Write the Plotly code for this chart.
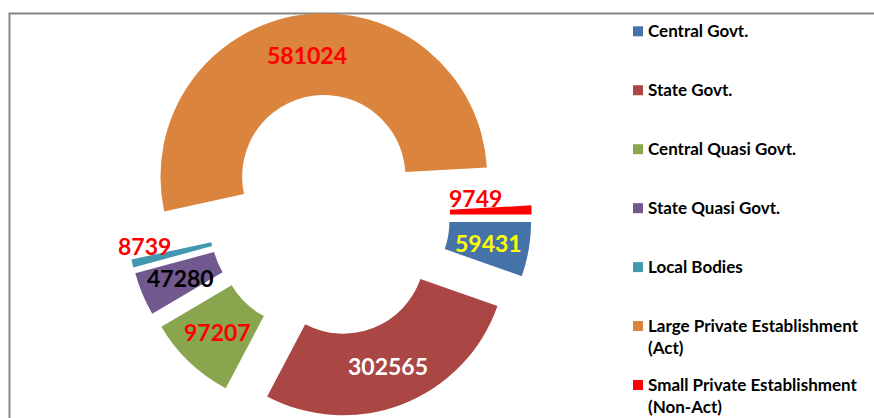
import math
import plotly.graph_objects as go

# Employment by type of establishment
categories = [
    "Central Govt.",
    "State Govt.",
    "Central Quasi Govt.",
    "State Quasi Govt.",
    "Local Bodies",
    "Large Private Establishment (Act)",
    "Small Private Establishment (Non-Act)",
]
employment = [59431, 302565, 97207, 47280, 8739, 581024, 9749]

slice_colors = ["#4572A7", "#AA4643", "#89A54E", "#71588F", "#4198AF", "#DB843D", "#FF0000"]
value_label_colors = ["#FFFF00", "#FFFFFF", "#FF0000", "#000000", "#FF0000", "#FF0000", "#FF0000"]

W, H = 874, 418
PULL = 0.24
HOLE = 0.5
START_ANGLE = 90          # first slice starts at 3 o'clock, running clockwise
DOM_X = [0.05, 0.703]
DOM_Y = [0.0, 0.969]
FONT = "Lato"

fig = go.Figure(
    go.Pie(
        labels=categories,
        values=employment,
        sort=False,
        direction="clockwise",
        rotation=START_ANGLE,
        hole=HOLE,
        pull=[PULL] * len(employment),
        marker=dict(colors=slice_colors, line=dict(width=0)),
        textinfo="none",
        hoverinfo="label+value+percent",
        domain=dict(x=DOM_X, y=DOM_Y),
        showlegend=False,
    )
)

# Pie geometry in pixels (same rules plotly uses to size the pie in its domain)
box_w = W * (DOM_X[1] - DOM_X[0])
box_h = H * (DOM_Y[1] - DOM_Y[0])
radius = min(box_w, box_h) / (2 + 2 * PULL)
cx = W * (DOM_X[0] + DOM_X[1]) / 2
cy = H * (1 - DOM_Y[0]) - box_h / 2

# Thin slices carry their value label just outside the ring
outside_label_px = {4: (144, 246), 6: (475, 198)}

annotations = []
total = sum(employment)
cum = 0.0
for i, v in enumerate(employment):
    mid = math.radians(START_ANGLE + 360.0 * (cum + v / 2) / total)
    cum += v
    if i in outside_label_px:
        px, py = outside_label_px[i]
    else:
        d = radius * (PULL + (1 + HOLE) / 2)
        px = cx + d * math.sin(mid)
        py = cy - d * math.cos(mid)
    annotations.append(dict(
        x=px / W, y=1 - py / H, xref="paper", yref="paper",
        text=f"<b>{v}</b>", showarrow=False,
        xanchor="center", yanchor="middle",
        font=dict(family=FONT, size=23, color=value_label_colors[i]),
    ))

# Legend: colour key squares with the category names
shapes = []
LEG_X, LEG_Y0, LEG_STEP, KEY = 633, 31.3, 58.95, 10
for i, name in enumerate(categories):
    yc = LEG_Y0 + LEG_STEP * i
    shapes.append(dict(
        type="rect", xref="paper", yref="paper",
        x0=LEG_X / W, x1=(LEG_X + KEY) / W,
        y0=1 - (yc + KEY / 2) / H, y1=1 - (yc - KEY / 2) / H,
        fillcolor=slice_colors[i], line=dict(width=0),
    ))
    shown = name.replace(" (", "<br>(")
    annotations.append(dict(
        x=(LEG_X + KEY + 3) / W, y=1 - (yc - 13.5) / H,
        xref="paper", yref="paper", xanchor="left", yanchor="top",
        align="left", showarrow=False, text=f"<b>{shown}</b>",
        font=dict(family=FONT, size=17, color="#000000"),
    ))

# Chart-area frame
shapes.append(dict(
    type="rect", xref="paper", yref="paper",
    x0=9.5 / W, x1=1.02, y0=-0.02, y1=1 - 13.5 / H,
    line=dict(color="#868686", width=2), fillcolor="rgba(0,0,0,0)",
    layer="below",
))

fig.update_layout(
    width=W, height=H,
    margin=dict(l=0, r=0, t=0, b=0),
    paper_bgcolor="white",
    plot_bgcolor="white",
    font=dict(family=FONT),
    shapes=shapes,
    annotations=annotations,
)

fig.write_html("out.html")
